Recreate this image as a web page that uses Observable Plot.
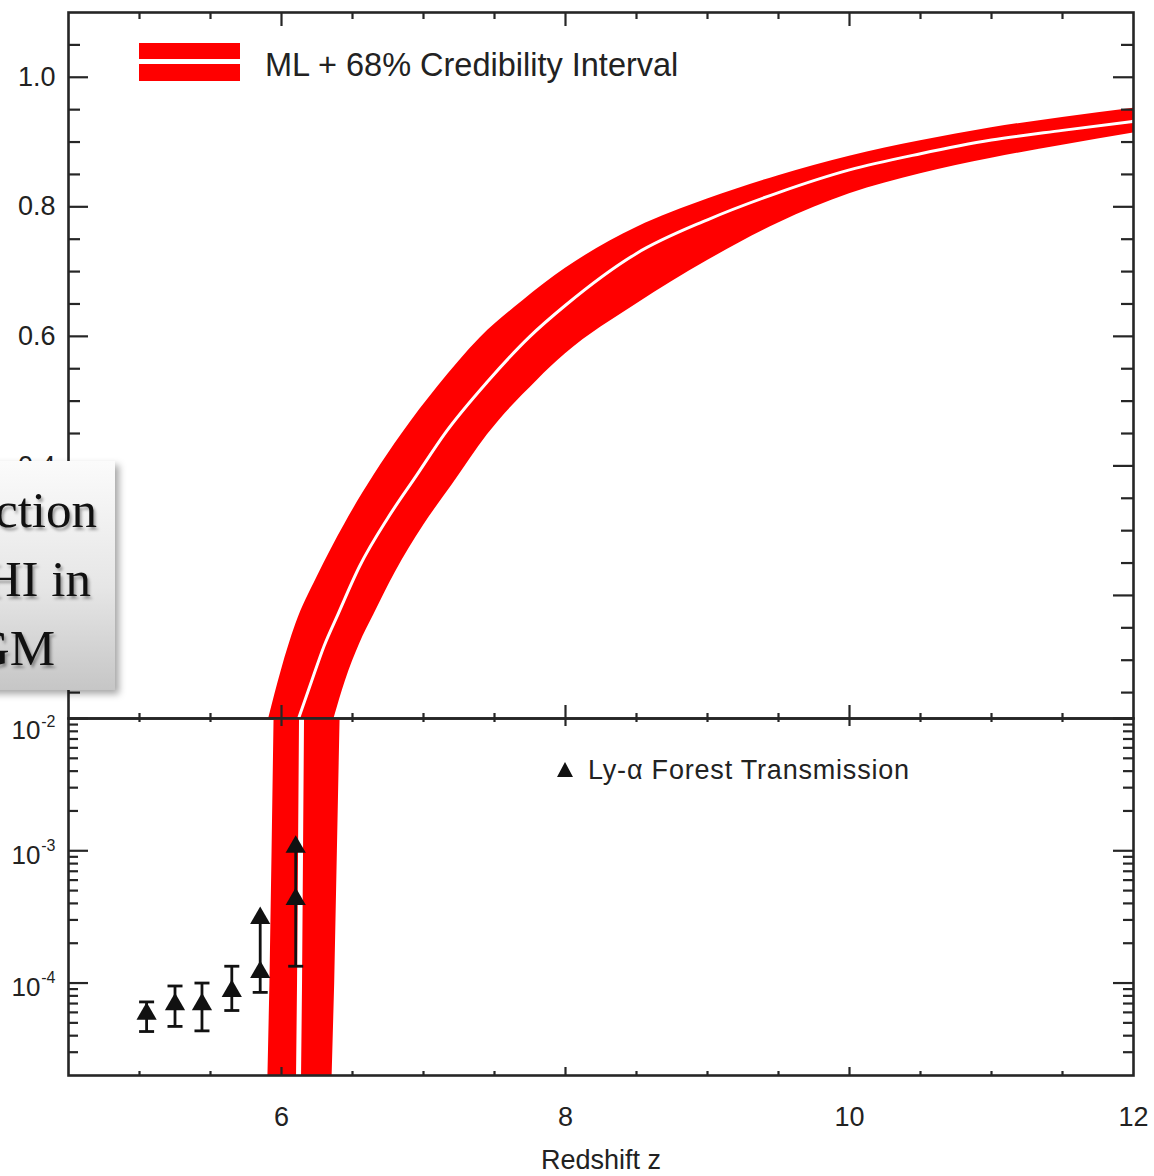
<!DOCTYPE html>
<html>
<head>
<meta charset="utf-8">
<script src="https://cdn.jsdelivr.net/npm/d3@7"></script>
<script src="https://cdn.jsdelivr.net/npm/@observablehq/plot@0.6"></script>
<style>
  html, body { margin: 0; padding: 0; background: #fff; overflow: hidden; }
  #chart { position: relative; width: 1154px; height: 1176px; font-family: "Liberation Sans", Arial, Helvetica, sans-serif; color: #222; }
  #chart svg { position: absolute; left: 0; }
  .abs { position: absolute; white-space: nowrap; }
  .legend-text { font-size: 32.5px; line-height: 38px; color: #222; }
  .legend2-text { font-size: 27px; line-height: 30px; letter-spacing: 0.8px; color: #222; }
  .xlabel { font-size: 27px; line-height: 30px; color: #222; transform: translateX(-50%); }
  .callout {
    position: absolute; left: -200px; top: 461px; width: 315px; height: 229px;
    background: linear-gradient(to bottom, #fbfbfb 0%, #e6e6e6 55%, #c6c6c6 100%);
    box-shadow: 4px 4px 7px rgba(0,0,0,0.35);
    font-family: "Liberation Serif", "DejaVu Serif", serif; font-size: 51px; line-height: 50px; color: #111;
    text-shadow: 2px 3px 3px rgba(0,0,0,0.35);
    z-index: 5; overflow: hidden;
  }
  .callout div { position: absolute; white-space: nowrap; }
</style>
</head>
<body>
<div id="chart">
  <div class="abs" style="left:139px; top:43px; width:101px; height:38px; background:#ff0000;"></div>
  <div class="abs" style="left:139px; top:59px; width:101px; height:5px; background:#fff;"></div>
  <div class="abs legend-text" style="left:265px; top:46px;">ML + 68% Credibility Interval</div>

  <div class="abs" style="left:557px; top:762px; width:0; height:0; border-left:8px solid transparent; border-right:8px solid transparent; border-bottom:15px solid #111;"></div>
  <div class="abs legend2-text" style="left:588px; top:755px;">Ly-α Forest Transmission</div>

  <div class="abs xlabel" style="left:601px; top:1145px;">Redshift z</div>

  <div class="callout">
    <div style="right:18px; top:24px;">Fraction</div>
    <div style="right:24px; top:93px;">of HI in</div>
    <div style="right:60px; top:162px;">IGM</div>
  </div>
</div>
<script>
// Redshift axis
const zDomain = [4.5, 12];
const zMajor = [6, 8, 10, 12];
const zMajorLabels = ["6", "8", "10", "12"];

// Neutral fraction, linear (upper) panel
const xhiDomainLin = [0.01, 1.1];
const xhiMajorLin = [0.2, 0.4, 0.6, 0.8, 1.0];
const xhiMajorLinLabels = ["0.2", "0.4", "0.6", "0.8", "1.0"];

// Neutral fraction, logarithmic (lower) panel
const xhiDomainLog = [2e-5, 1e-2];
const xhiMajorLog = [1e-4, 1e-3, 1e-2];
const xhiMajorLogExp = ["-4", "-3", "-2"];

// 68% credibility interval: upper bound (left edge of the band)
const upperZ   = [5.91, 6.00, 6.10, 6.25, 6.45, 6.65, 6.85, 7.10, 7.40, 7.70, 8.00, 8.50, 9.00, 9.50, 10.0, 10.5, 11.0, 11.5, 12.0];
const upperXHI = [0.010, 0.085, 0.155, 0.228, 0.312, 0.385, 0.450, 0.522, 0.598, 0.655, 0.705, 0.768, 0.812, 0.848, 0.878, 0.902, 0.922, 0.938, 0.952];

// Maximum-likelihood history
const mlZ   = [6.12, 6.20, 6.30, 6.40, 6.55, 6.75, 6.95, 7.15, 7.45, 7.75, 8.00, 8.50, 9.00, 9.50, 10.0, 10.5, 11.0, 11.5, 12.0];
const mlXHI = [0.010, 0.060, 0.122, 0.172, 0.245, 0.320, 0.385, 0.450, 0.530, 0.600, 0.648, 0.728, 0.780, 0.822, 0.857, 0.882, 0.903, 0.918, 0.932];

// 68% credibility interval: lower bound (right edge of the band)
const lowerZ   = [6.37, 6.45, 6.55, 6.65, 6.80, 7.00, 7.20, 7.45, 7.80, 8.00, 8.50, 9.00, 9.50, 10.0, 10.5, 11.0, 11.5, 12.0];
const lowerXHI = [0.010, 0.068, 0.125, 0.170, 0.235, 0.308, 0.370, 0.448, 0.532, 0.573, 0.650, 0.717, 0.775, 0.820, 0.851, 0.875, 0.895, 0.914];

// Below 1e-2 the band drops almost vertically
const tailXHI    = [1e-2, 1e-3, 1e-4, 2e-5];
const tailUpperZ = [5.944, 5.930, 5.915, 5.901];
const tailMlZ    = [6.141, 6.134, 6.127, 6.120];
const tailLowerZ = [6.409, 6.390, 6.371, 6.353];

// Ly-alpha forest transmission constraints
const lyaZ   = [5.05, 5.25, 5.44, 5.65, 5.85, 6.10];
const lyaXHI = [5.85e-5, 6.9e-5, 6.9e-5, 8.7e-5, 1.21e-4, 4.3e-4];
const lyaLo  = [4.3e-5, 4.7e-5, 4.35e-5, 6.2e-5, 8.5e-5, 1.34e-4];
const lyaHi  = [7.2e-5, 9.5e-5, 1.0e-4, 1.34e-4, 3.1e-4, 1.07e-3];
const lyaHiIsLimit = [false, false, false, false, true, true];

// ---- layout ----
const W = 1154, mL = 68, mR = 21;
const frameW = W - mL - mR;
const topH = 730, topMT = 12, topMB = 12, topFrameH = topH - topMT - topMB;   // frame 12..718
const botTop = 700, botH = 476, botMT = 18, botMB = 101, botFrameH = botH - botMT - botMB; // frame 718..1075

const ink = "#262626";
const red = "#ff0000";
const tickStyle = {stroke: ink, strokeWidth: 2.2};
const leftTicks = (vals, len) => Plot.tickY(vals, {y: d => d, insetRight: frameW - len, ...tickStyle});
const rightTicks = (vals, len) => Plot.tickY(vals, {y: d => d, insetLeft: frameW - len, ...tickStyle});
const topTicks = (vals, len, H) => Plot.tickX(vals, {x: d => d, insetBottom: H - len, ...tickStyle});
const bottomTicks = (vals, len, H) => Plot.tickX(vals, {x: d => d, insetTop: H - len, ...tickStyle});

const zMajorInner = zMajor.filter(z => z < zDomain[1]);
const zMinor = d3.range(10, 24).filter(i => i % 4).map(i => i / 2);
const linMinor = d3.range(1, 22).filter(i => i % 4).map(i => i / 20);
const logMinor = [1e-5, 1e-4, 1e-3]
  .flatMap(d => d3.range(2, 10).map(k => k * d))
  .filter(v => v > xhiDomainLog[0] && v < xhiDomainLog[1]);

const svgStyle = {background: "transparent", overflow: "visible", fontFamily: "'Liberation Sans', Arial, sans-serif"};

// ---- upper panel: linear neutral fraction ----
const upper = upperZ.map((z, i) => ({z, v: upperXHI[i]}));
const lower = lowerZ.map((z, i) => ({z, v: lowerXHI[i]}));
const mlLine = mlZ.map((z, i) => ({z, v: mlXHI[i]}));

// The band is the red region under the upper bound with the region under
// the lower bound painted back to the background.
const topPlot = Plot.plot({
  width: W, height: topH,
  marginLeft: mL, marginRight: mR, marginTop: topMT, marginBottom: topMB,
  x: {domain: zDomain, axis: null},
  y: {domain: xhiDomainLin, axis: null},
  style: svgStyle,
  marks: [
    Plot.areaY(upper, {x: "z", y1: xhiDomainLin[0], y2: "v", fill: red, curve: "monotone-x", clip: true}),
    Plot.areaY(lower, {x: "z", y1: xhiDomainLin[0], y2: "v", fill: "#fff", curve: "monotone-x", clip: true}),
    Plot.line(mlLine, {x: "z", y: "v", stroke: "#fff", strokeWidth: 3, curve: "monotone-x", clip: true}),
    leftTicks(xhiMajorLin, 20), leftTicks(linMinor, 12),
    rightTicks(xhiMajorLin, 20), rightTicks(linMinor, 12),
    topTicks(zMajorInner, 14, topFrameH), topTicks(zMinor, 7, topFrameH),
    bottomTicks(zMajorInner, 13, topFrameH), bottomTicks(zMinor, 5, topFrameH),
    Plot.frame({stroke: ink, strokeWidth: 2.6}),
    Plot.text(xhiMajorLin, {y: d => d, text: (d, i) => xhiMajorLinLabels[i], frameAnchor: "left",
      textAnchor: "end", dx: -13, fontSize: 27, fill: "#222"})
  ]
});
topPlot.style.top = "0px";

// ---- lower panel: logarithmic neutral fraction ----
const tailPoly = [
  ...tailXHI.map((v, i) => ({z: tailUpperZ[i], v})),
  ...tailXHI.map((v, i) => ({z: tailLowerZ[i], v})).reverse()
];
const tailMl = tailXHI.map((v, i) => ({z: tailMlZ[i], v}));
const lya = lyaZ.map((z, i) => ({z, v: lyaXHI[i], lo: lyaLo[i], hi: lyaHi[i], limit: lyaHiIsLimit[i]}));

// horizontal cap for the error bars
const capSymbol = {draw(ctx, size) { const r = Math.sqrt(size / Math.PI); ctx.moveTo(-r, 0); ctx.lineTo(r, 0); }};

const logLabelIdx = xhiMajorLog.map((d, i) => i);
const isTopLabel = i => xhiMajorLog[i] === xhiDomainLog[1];

const botPlot = Plot.plot({
  width: W, height: botH,
  marginLeft: mL, marginRight: mR, marginTop: botMT, marginBottom: botMB,
  x: {domain: zDomain, axis: null},
  y: {type: "log", domain: xhiDomainLog, axis: null},
  style: svgStyle,
  marks: [
    Plot.line(tailPoly, {x: "z", y: "v", fill: red, stroke: "none", clip: true}),
    Plot.line(tailMl, {x: "z", y: "v", stroke: "#fff", strokeWidth: 5, clip: true}),
    Plot.ruleX(lya, {x: "z", y1: "lo", y2: "hi", stroke: "#111", strokeWidth: 2.8}),
    Plot.dot(lya, {x: "z", y: "lo", symbol: capSymbol, r: 7.5, stroke: "#111", strokeWidth: 2.8, fill: "none"}),
    Plot.dot(lya.filter(d => !d.limit), {x: "z", y: "hi", symbol: capSymbol, r: 7.5, stroke: "#111", strokeWidth: 2.8, fill: "none"}),
    Plot.dot(lya, {x: "z", y: "v", symbol: "triangle", r: 7.5, fill: "#111", stroke: "none"}),
    Plot.dot(lya.filter(d => d.limit), {x: "z", y: "hi", symbol: "triangle", r: 7.5, fill: "#111", stroke: "none"}),
    leftTicks(xhiMajorLog, 20), leftTicks(logMinor, 10),
    rightTicks(xhiMajorLog, 20), rightTicks(logMinor, 10),
    topTicks(zMajorInner, 8, botFrameH), topTicks(zMinor, 4, botFrameH),
    bottomTicks(zMajorInner, 8, botFrameH), bottomTicks(zMinor, 4, botFrameH),
    Plot.frame({stroke: ink, strokeWidth: 2.6}),
    // "10" with a raised exponent; the label at the panel seam sits a little lower
    Plot.text(logLabelIdx.filter(i => !isTopLabel(i)), {y: i => xhiMajorLog[i], text: () => "10", frameAnchor: "left",
      textAnchor: "end", dx: -28, dy: 5, fontSize: 26, fill: "#222"}),
    Plot.text(logLabelIdx.filter(i => !isTopLabel(i)), {y: i => xhiMajorLog[i], text: i => xhiMajorLogExp[i], frameAnchor: "left",
      textAnchor: "end", dx: -13, dy: -5, fontSize: 16, fill: "#222"}),
    Plot.text(logLabelIdx.filter(isTopLabel), {y: i => xhiMajorLog[i], text: () => "10", frameAnchor: "left",
      textAnchor: "end", dx: -28, dy: 12, fontSize: 26, fill: "#222"}),
    Plot.text(logLabelIdx.filter(isTopLabel), {y: i => xhiMajorLog[i], text: i => xhiMajorLogExp[i], frameAnchor: "left",
      textAnchor: "end", dx: -13, dy: 3, fontSize: 16, fill: "#222"}),
    Plot.text(zMajor, {x: d => d, text: (d, i) => zMajorLabels[i], frameAnchor: "bottom",
      dy: 50, fontSize: 27, fill: "#222"})
  ]
});
botPlot.style.top = botTop + "px";

const chart = document.getElementById("chart");
chart.insertBefore(botPlot, chart.firstChild);
chart.insertBefore(topPlot, chart.firstChild);
</script>
</body>
</html>
